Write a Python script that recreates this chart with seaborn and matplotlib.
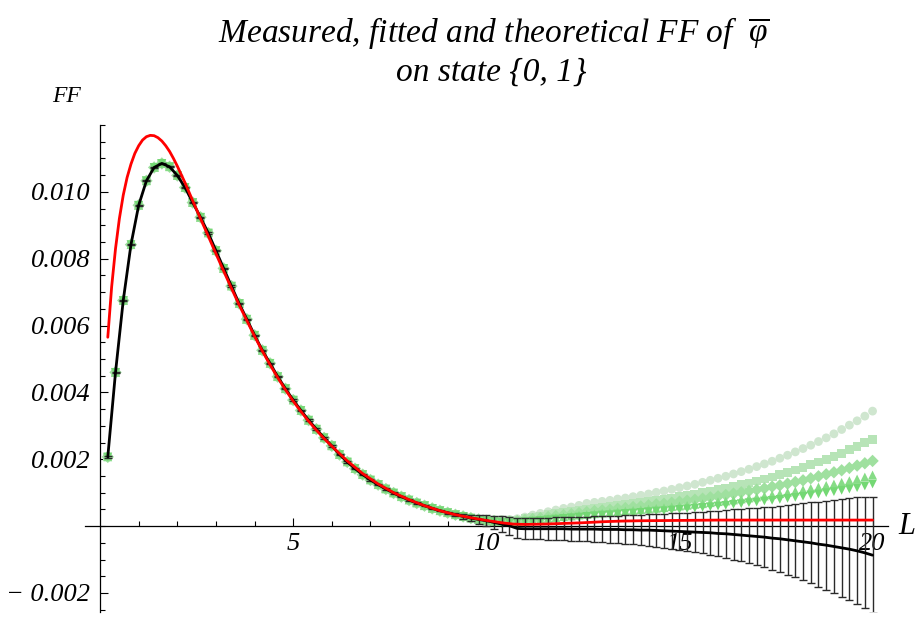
import numpy as np
import pandas as pd
import matplotlib
matplotlib.use("Agg")
import matplotlib.pyplot as plt
import seaborn as sns

# ---- data -------------------------------------------------------------
# chain length grid of the measurements
L = np.round(np.arange(1, 101) * 0.2, 1)

# measured FF (all truncation levels agree up to L = 10)
ff_common = [
    0.00207, 0.00460, 0.00675, 0.00842, 0.00960, 0.01033, 0.01073, 0.01085, 0.01075, 0.01049,
    0.01013, 0.00968, 0.00924, 0.00877, 0.00824, 0.00771, 0.00718, 0.00666, 0.00619, 0.00571,
    0.00526, 0.00487, 0.00447, 0.00411, 0.00377, 0.00346, 0.00317, 0.00290, 0.00264, 0.00240,
    0.00214, 0.00192, 0.00172, 0.00154, 0.00138, 0.00124, 0.00111, 0.00099, 0.00088, 0.00078,
    0.00069, 0.00061, 0.00053, 0.00046, 0.00040, 0.00034, 0.00029, 0.00024, 0.00020, 0.00016,
]

# measured FF for L = 10.2 ... 20, one list per truncation level
ff_trunc_1 = [
    0.00019, 0.00020, 0.00020, 0.00022, 0.00027, 0.00033, 0.00038, 0.00043, 0.00048, 0.00053,
    0.00057, 0.00062, 0.00068, 0.00071, 0.00074, 0.00077, 0.00081, 0.00084, 0.00088, 0.00092,
    0.00096, 0.00101, 0.00105, 0.00110, 0.00115, 0.00120, 0.00125, 0.00131, 0.00137, 0.00143,
    0.00149, 0.00156, 0.00163, 0.00170, 0.00178, 0.00186, 0.00194, 0.00203, 0.00212, 0.00222,
    0.00232, 0.00242, 0.00253, 0.00264, 0.00276, 0.00289, 0.00302, 0.00315, 0.00329, 0.00344,
]
ff_trunc_2 = [
    0.00017, 0.00016, 0.00016, 0.00018, 0.00022, 0.00026, 0.00030, 0.00034, 0.00037, 0.00041,
    0.00044, 0.00048, 0.00051, 0.00054, 0.00056, 0.00059, 0.00062, 0.00064, 0.00067, 0.00070,
    0.00073, 0.00077, 0.00080, 0.00084, 0.00088, 0.00091, 0.00095, 0.00100, 0.00104, 0.00109,
    0.00113, 0.00119, 0.00124, 0.00129, 0.00135, 0.00141, 0.00147, 0.00154, 0.00161, 0.00168,
    0.00176, 0.00184, 0.00192, 0.00200, 0.00209, 0.00218, 0.00228, 0.00238, 0.00249, 0.00260,
]
ff_trunc_3 = [
    0.00015, 0.00013, 0.00013, 0.00015, 0.00018, 0.00021, 0.00024, 0.00027, 0.00030, 0.00033,
    0.00036, 0.00039, 0.00042, 0.00045, 0.00047, 0.00049, 0.00052, 0.00054, 0.00057, 0.00059,
    0.00062, 0.00065, 0.00067, 0.00070, 0.00073, 0.00076, 0.00079, 0.00082, 0.00086, 0.00089,
    0.00093, 0.00097, 0.00101, 0.00105, 0.00109, 0.00113, 0.00118, 0.00122, 0.00127, 0.00132,
    0.00137, 0.00143, 0.00149, 0.00155, 0.00161, 0.00167, 0.00174, 0.00181, 0.00188, 0.00195,
]
ff_trunc_4 = [
    0.00014, 0.00012, 0.00011, 0.00013, 0.00015, 0.00018, 0.00020, 0.00023, 0.00025, 0.00028,
    0.00030, 0.00033, 0.00035, 0.00037, 0.00039, 0.00041, 0.00043, 0.00045, 0.00047, 0.00049,
    0.00051, 0.00053, 0.00055, 0.00058, 0.00060, 0.00062, 0.00065, 0.00067, 0.00070, 0.00073,
    0.00075, 0.00078, 0.00081, 0.00084, 0.00087, 0.00090, 0.00094, 0.00097, 0.00101, 0.00105,
    0.00109, 0.00113, 0.00117, 0.00122, 0.00126, 0.00131, 0.00136, 0.00141, 0.00147, 0.00153,
]
ff_trunc_5 = [
    0.00013, 0.00011, 0.00010, 0.00011, 0.00013, 0.00015, 0.00017, 0.00019, 0.00021, 0.00023,
    0.00025, 0.00027, 0.00029, 0.00031, 0.00033, 0.00034, 0.00036, 0.00038, 0.00039, 0.00041,
    0.00043, 0.00045, 0.00046, 0.00048, 0.00050, 0.00052, 0.00054, 0.00056, 0.00058, 0.00060,
    0.00062, 0.00065, 0.00067, 0.00070, 0.00072, 0.00075, 0.00077, 0.00080, 0.00083, 0.00086,
    0.00089, 0.00093, 0.00096, 0.00100, 0.00103, 0.00107, 0.00111, 0.00115, 0.00120, 0.00126,
]

# fitted (extrapolated) FF for L = 10.2 ... 20
ff_fit_tail = [
    0.00011, 0.00006, 0.00001, -0.00007, -0.00008, -0.00008, -0.00008, -0.00008, -0.00008, -0.00008,
    -0.00009, -0.00009, -0.00009, -0.00009, -0.00010, -0.00010, -0.00010, -0.00011, -0.00011, -0.00012,
    -0.00012, -0.00013, -0.00014, -0.00015, -0.00016, -0.00017, -0.00018, -0.00019, -0.00020, -0.00022,
    -0.00023, -0.00025, -0.00027, -0.00029, -0.00031, -0.00033, -0.00036, -0.00038, -0.00041, -0.00044,
    -0.00047, -0.00050, -0.00054, -0.00057, -0.00061, -0.00065, -0.00069, -0.00074, -0.00080, -0.00087,
]

# fit uncertainty (half width of the error bars), L = 0.2 ... 20
fit_err = [
    0.00002, 0.00002, 0.00002, 0.00002, 0.00002, 0.00002, 0.00002, 0.00002, 0.00002, 0.00002,
    0.00002, 0.00002, 0.00002, 0.00002, 0.00002, 0.00002, 0.00002, 0.00002, 0.00002, 0.00002,
    0.00002, 0.00002, 0.00002, 0.00002, 0.00002, 0.00002, 0.00002, 0.00002, 0.00002, 0.00002,
    0.00002, 0.00002, 0.00002, 0.00002, 0.00002, 0.00002, 0.00002, 0.00002, 0.00002, 0.00002,
    0.00002, 0.00002, 0.00002, 0.00002, 0.00003, 0.00005, 0.00007, 0.00010, 0.00013, 0.00016,
    0.00020, 0.00024, 0.00027, 0.00030, 0.00031, 0.00032, 0.00032, 0.00033, 0.00034, 0.00035,
    0.00035, 0.00036, 0.00037, 0.00038, 0.00039, 0.00040, 0.00041, 0.00043, 0.00044, 0.00046,
    0.00047, 0.00049, 0.00051, 0.00053, 0.00055, 0.00057, 0.00060, 0.00062, 0.00065, 0.00068,
    0.00071, 0.00075, 0.00078, 0.00082, 0.00086, 0.00090, 0.00094, 0.00099, 0.00104, 0.00109,
    0.00115, 0.00121, 0.00127, 0.00133, 0.00140, 0.00146, 0.00153, 0.00160, 0.00166, 0.00173,
]

# theoretical curve
L_theory = [
    0.2, 0.3, 0.4, 0.5, 0.6, 0.7, 0.8, 0.9, 1.0, 1.1, 1.2, 1.3, 1.4, 1.5, 1.6, 1.7, 1.8, 1.9,
    2.0, 2.2, 2.4, 2.6, 2.8, 3.0, 3.2, 3.4, 3.6, 3.8, 4.0, 4.2, 4.4, 4.6, 4.8, 5.0, 5.2, 5.4,
    5.6, 5.8, 6.0, 6.4, 6.8, 7.2, 7.6, 8.0, 8.4, 8.8, 9.2, 9.6, 10.0, 10.4, 10.7, 11.0, 11.5,
    12.0, 12.5, 13.0, 13.5, 14.0, 15.0, 16.0, 20.0,
]
ff_theory = [
    0.00565, 0.00716, 0.00830, 0.00920, 0.00990, 0.01043, 0.01083, 0.01115, 0.01138, 0.01155,
    0.01165, 0.01169, 0.01168, 0.01162, 0.01152, 0.01138, 0.01121, 0.01100, 0.01077, 0.01027,
    0.00973, 0.00920, 0.00868, 0.00815, 0.00763, 0.00712, 0.00662, 0.00615, 0.00568, 0.00524,
    0.00483, 0.00444, 0.00408, 0.00374, 0.00343, 0.00314, 0.00287, 0.00262, 0.00239, 0.00195,
    0.00157, 0.00126, 0.00100, 0.00079, 0.00061, 0.00046, 0.00034, 0.00025, 0.00017, 0.00010,
    0.00006, 0.00005, 0.00006, 0.00008, 0.00010, 0.00013, 0.00015, 0.00016, 0.00017, 0.00018,
    0.00018,
]

x_ticks = [5, 10, 15, 20]
y_ticks = [-0.002, 0.002, 0.004, 0.006, 0.008, 0.010]

# ---- styling ------------------------------------------------------------
sns.set_theme(style="white")
plt.rcParams["font.family"] = ["Liberation Serif", "DejaVu Serif"]
plt.rcParams["mathtext.fontset"] = "custom"
plt.rcParams["mathtext.rm"] = "Liberation Serif"
plt.rcParams["mathtext.it"] = "Liberation Serif:italic"
plt.rcParams["text.color"] = "black"
plt.rcParams["xtick.color"] = "black"
plt.rcParams["ytick.color"] = "black"

series_names = ["n1", "n2", "n3", "n4", "n5"]
series_tails = [ff_trunc_1, ff_trunc_2, ff_trunc_3, ff_trunc_4, ff_trunc_5]
palette = {"n1": "#cfe6cf", "n2": "#b7e4b7", "n3": "#9fe09f", "n4": "#86dc86", "n5": "#74d874"}
markers = {"n1": "o", "n2": "s", "n3": "D", "n4": "^", "n5": "v"}

frames = []
for name, tail in zip(series_names, series_tails):
    frames.append(pd.DataFrame({"L": L, "FF": list(ff_common) + list(tail), "series": name}))
measured = pd.concat(frames, ignore_index=True)

ff_fit = np.array(list(ff_common) + list(ff_fit_tail))

fig = plt.figure(figsize=(9.19, 6.21), dpi=100)
ax = fig.add_axes([85 / 919, 1 - 612 / 621, (888 - 85) / 919, (612 - 125) / 621])

sns.scatterplot(data=measured, x="L", y="FF", hue="series", style="series",
                palette=palette, markers=markers, s=40, edgecolor="none",
                legend=False, ax=ax, zorder=2)

ax.errorbar(L, ff_fit, yerr=fit_err, fmt="none", ecolor="#2a2a2a",
            elinewidth=1.0, capsize=2.6, capthick=1.0, zorder=3)

sns.lineplot(x=L, y=ff_fit, color="black", lw=2.0, ax=ax, zorder=4, sort=False)
sns.lineplot(x=L_theory, y=ff_theory, color="#ff0000", lw=2.0, ax=ax, zorder=5, sort=False)

ax.set_xlim(-0.39, 20.4)
ax.set_ylim(-0.00257, 0.0120)

# axes crossing at the origin
for side in ["top", "right"]:
    ax.spines[side].set_visible(False)
ax.spines["left"].set_position(("data", 0))
ax.spines["bottom"].set_position(("data", 0))
for side in ["left", "bottom"]:
    ax.spines[side].set_color("black")
    ax.spines[side].set_linewidth(0.9)

ax.set_xticks(x_ticks)
ax.set_xticklabels([str(t) for t in x_ticks])
ax.set_yticks(y_ticks)
ax.set_yticklabels([f"{t:.3f}".replace("-", "\u2212 ") for t in y_ticks])
ax.set_xticks(np.arange(1, 21), minor=True)
ax.set_yticks(np.arange(-0.0025, 0.01201, 0.0005), minor=True)

ax.tick_params(axis="both", which="both", direction="in", color="black", width=0.8,
               left=True, bottom=True, top=False, right=False)
ax.tick_params(axis="both", which="major", length=6)
ax.tick_params(axis="both", which="minor", length=3.5)
ax.tick_params(axis="x", which="major", pad=5, labelsize=19, labelcolor="black")
ax.tick_params(axis="y", which="major", pad=7, labelsize=19, labelcolor="black")
for lab in ax.get_xticklabels() + ax.get_yticklabels():
    lab.set_fontstyle("italic")

ax.set_xlabel("")
ax.set_ylabel("")
ax.grid(False)
ax.set_facecolor("white")

fig.text(66 / 919, 1 - 97 / 621, "FF", fontsize=17, fontstyle="italic",
         ha="center", va="center")
fig.text(907 / 919, 1 - 527 / 621, "L", fontsize=22, fontstyle="italic",
         ha="center", va="center")
fig.text(494 / 919, 1 - 33 / 621,
         r"Measured, fitted and theoretical FF of  $\overline{\varphi}$",
         fontsize=24, fontstyle="italic", ha="center", va="center")
fig.text(491 / 919, 1 - 72 / 621, "on state {0, 1}", fontsize=24,
         fontstyle="italic", ha="center", va="center")

fig.savefig("out.png", dpi=100, facecolor="white")
